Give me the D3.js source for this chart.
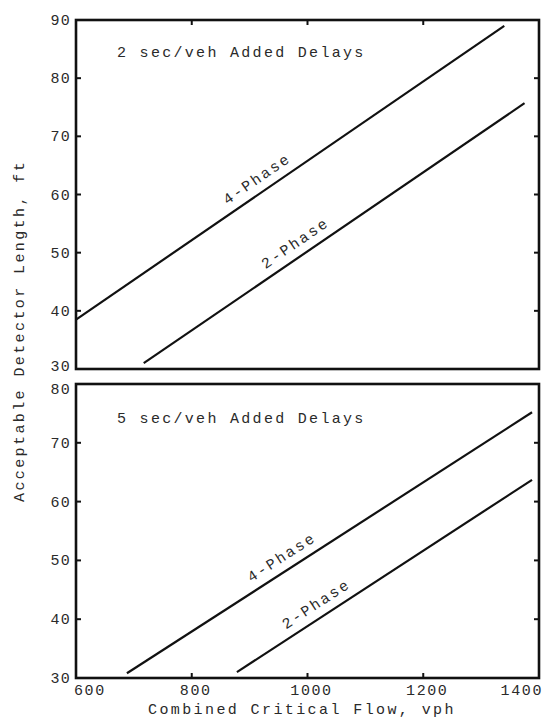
<!DOCTYPE html>
<html><head><meta charset="utf-8">
<script src="https://cdn.jsdelivr.net/npm/d3@7"></script>
<style>
html,body{margin:0;padding:0;background:#fff;}
text{font-family:"Liberation Mono","DejaVu Sans Mono",monospace;fill:#2a2a2a;}
</style></head>
<body><svg id="c" width="545" height="719"></svg>
<script>
// ---- data ----
const xTicks = [600, 800, 1000, 1200, 1400];
const topYTicks = [30, 40, 50, 60, 70, 80, 90];
const bottomYTicks = [30, 40, 50, 60, 70, 80];
const panelTitles = ["2 sec/veh Added Delays", "5 sec/veh Added Delays"];
const seriesNames = ["4-Phase", "2-Phase"];
const top4Phase = [[600, 38.5], [1340, 89.0]];
const top2Phase = [[717, 31.0], [1375, 75.7]];
const bottom4Phase = [[688, 30.8], [1388, 75.2]];
const bottom2Phase = [[878, 31.0], [1388, 63.7]];
const topLabelAt = [926, 992];
const bottomLabelAt = [968, 1028];
const xTitle = "Combined Critical Flow, vph";
const yTitle = "Acceptable Detector Length, ft";

const svg = d3.select("#c");
const x = d3.scaleLinear().domain([600, 1400]).range([76, 539]);

const panels = [
  {y: d3.scaleLinear().domain([30, 90]).range([369, 20]), ticks: topYTicks,
   title: panelTitles[0], titleY: 57, series: [top4Phase, top2Phase], labelAt: topLabelAt, topTicks: true},
  {y: d3.scaleLinear().domain([30, 80]).range([678, 384]), ticks: bottomYTicks,
   title: panelTitles[1], titleY: 423, series: [bottom4Phase, bottom2Phase], labelAt: bottomLabelAt, topTicks: false}
];

panels.forEach((p, pi) => {
  const g = svg.append("g");
  const [y0, y1] = p.y.range();
  const innerX = xTicks.slice(1, -1);
  innerX.forEach(v => {
    const ty = p.topTicks ? y1 : y0;
    const dir = p.topTicks ? 1 : -1;
    g.append("line").attr("x1", x(v)).attr("x2", x(v)).attr("y1", ty).attr("y2", ty + dir * 5)
      .attr("stroke", "#111").attr("stroke-width", 2);
  });
  p.ticks.slice(1, -1).forEach(v => {
    g.append("line").attr("x1", x.range()[0]).attr("x2", x.range()[0] + 5).attr("y1", p.y(v)).attr("y2", p.y(v))
      .attr("stroke", "#111").attr("stroke-width", 2);
    g.append("line").attr("x1", x.range()[1]).attr("x2", x.range()[1] - 5).attr("y1", p.y(v)).attr("y2", p.y(v))
      .attr("stroke", "#111").attr("stroke-width", 2);
  });
  g.append("rect").attr("x", x.range()[0]).attr("y", y1)
    .attr("width", x.range()[1] - x.range()[0]).attr("height", y0 - y1)
    .attr("fill", "none").attr("stroke", "#111").attr("stroke-width", 2.6);
  const n = p.ticks.length;
  p.ticks.forEach((v, i) => {
    let off = 5;
    if (pi === 0 && i === 0) off = 2;
    if (pi === 1 && i === n - 1) off = 10;
    g.append("text").attr("x", 71).attr("y", p.y(v) + off)
      .attr("text-anchor", "end").attr("font-size", 15).attr("letter-spacing", 1.2)
      .text(v);
  });
  g.append("text").attr("x", 117).attr("y", p.titleY)
    .attr("font-size", 15).attr("letter-spacing", 2.3).text(p.title);
  const line = d3.line().x(d => x(d[0])).y(d => p.y(d[1]));
  p.series.forEach((s, si) => {
    g.append("path").attr("d", line(s)).attr("fill", "none")
      .attr("stroke", "#111").attr("stroke-width", 2.2);
    const ang = Math.atan2(p.y(s[1][1]) - p.y(s[0][1]), x(s[1][0]) - x(s[0][0])) * 180 / Math.PI;
    const lx = p.labelAt[si];
    const ly = s[0][1] + (s[1][1] - s[0][1]) * (lx - s[0][0]) / (s[1][0] - s[0][0]);
    g.append("text")
      .attr("transform", `translate(${x(lx)},${p.y(ly)}) rotate(${ang})`)
      .attr("y", -9).attr("text-anchor", "middle")
      .attr("font-size", 15).attr("letter-spacing", 2.2).text(seriesNames[si]);
  });
});

xTicks.forEach((v, i) => {
  const anchor = i === 0 ? "start" : (i === xTicks.length - 1 ? "end" : "middle");
  const dx = i === 0 ? -2 : (i === xTicks.length - 1 ? 4 : 4);
  svg.append("text").attr("x", x(v) + dx).attr("y", 695)
    .attr("text-anchor", anchor).attr("font-size", 15).attr("letter-spacing", 1.6).text(v);
});
svg.append("text").attr("x", 148).attr("y", 714).attr("font-size", 15)
  .attr("letter-spacing", 2.4).text(xTitle);
svg.append("text").attr("transform", "translate(24,331) rotate(-90)")
  .attr("text-anchor", "middle").attr("font-size", 15).attr("letter-spacing", 2.4).text(yTitle);
</script></body></html>
